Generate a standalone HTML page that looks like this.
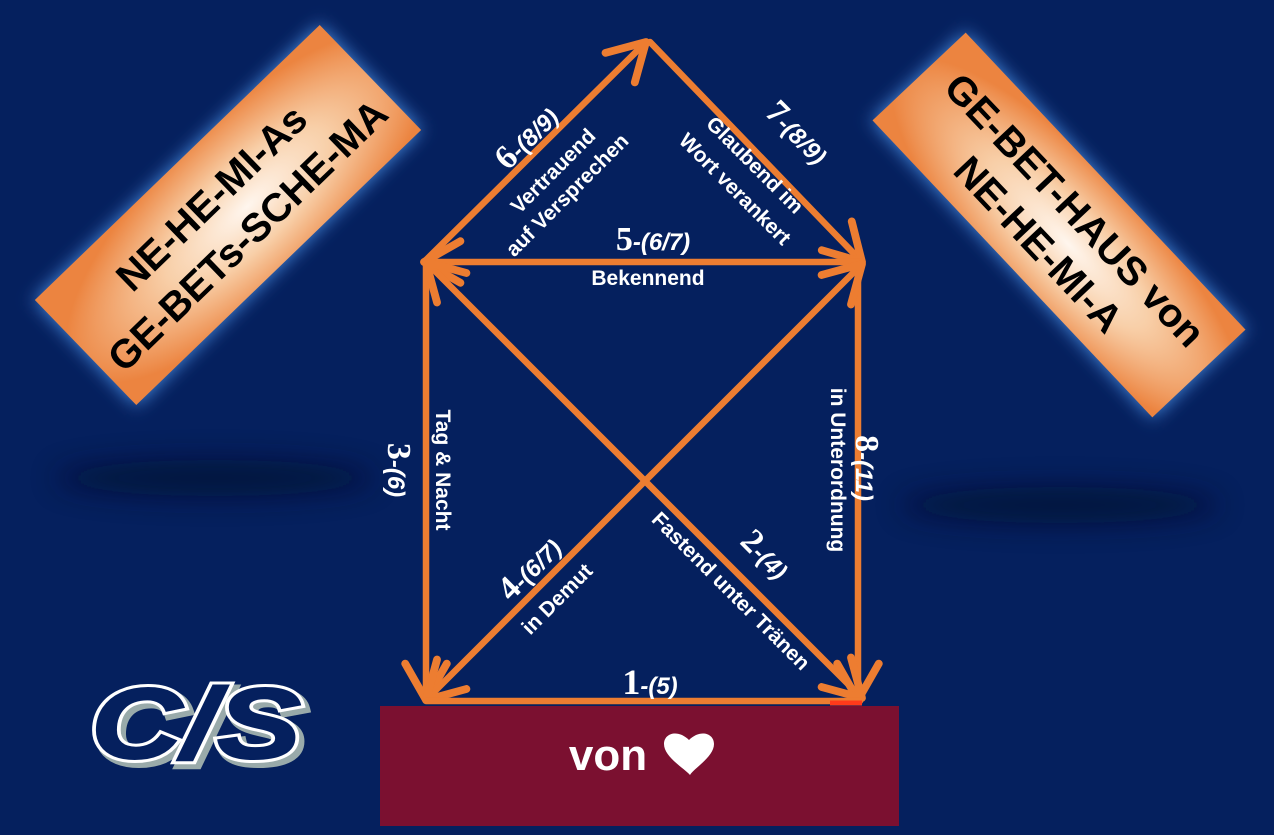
<!DOCTYPE html>
<html><head><meta charset="utf-8"><style>
html,body{margin:0;padding:0;background:#05205e;}
svg{display:block}
.n{font-family:"Liberation Serif",serif;font-weight:bold;fill:#fff}
.p{font-family:"Liberation Sans",sans-serif;font-weight:bold;font-style:italic;fill:#fff}
.l{font-family:"Liberation Sans",sans-serif;font-weight:bold;fill:#fff;font-size:21px}
.b{font-family:"Liberation Sans",sans-serif;font-weight:bold;fill:#000;font-size:40px}
</style></head><body>
<svg width="1274" height="835" viewBox="0 0 1274 835">
<defs>
<radialGradient id="bx" cx="0.55" cy="0.55" r="0.6">
<stop offset="0" stop-color="#fff6ee"/><stop offset="0.45" stop-color="#f8cfa8"/><stop offset="1" stop-color="#ec8440"/>
</radialGradient>
<filter id="gl" x="-30%" y="-30%" width="160%" height="160%"><feGaussianBlur stdDeviation="9"/></filter>
<filter id="sh" x="-30%" y="-200%" width="160%" height="500%"><feGaussianBlur stdDeviation="14"/></filter>
<marker id="ar" viewBox="0 0 20 20" refX="17" refY="10" markerWidth="8" markerHeight="8" orient="auto-start-reverse" markerUnits="strokeWidth">
<path d="M3,2 L17,10 L3,18" fill="none" stroke="#ed7d31" stroke-width="3" stroke-linecap="round" stroke-linejoin="round"/>
</marker>
</defs>
<rect width="1274" height="835" fill="#05205e"/>
<ellipse cx="215" cy="478" rx="160" ry="18" fill="#010a25" opacity="0.6" filter="url(#sh)"/>
<ellipse cx="1060" cy="505" rx="160" ry="18" fill="#010a25" opacity="0.6" filter="url(#sh)"/>
<g transform="translate(228,215) rotate(-44)">
<rect x="-198" y="-73" width="396" height="146" fill="#4a8ce0" filter="url(#gl)"/>
<rect x="-198" y="-73" width="396" height="146" fill="url(#bx)"/>
<text class="b" x="0" y="-10" text-anchor="middle">NE-HE-MI-As</text>
<text class="b" x="0" y="42" text-anchor="middle">GE-BETs-SCHE-MA</text>
</g>
<g transform="translate(1059,225) rotate(46.7)">
<rect x="-204" y="-64" width="408" height="128" fill="#4a8ce0" filter="url(#gl)"/>
<rect x="-204" y="-64" width="408" height="128" fill="url(#bx)"/>
<text class="b" x="0" y="-8" text-anchor="middle">GE-BET-HAUS von</text>
<text class="b" x="0" y="42" text-anchor="middle">NE-HE-MI-A</text>
</g>
<rect x="380" y="706" width="519" height="120" fill="#7b1030"/>
<text x="608" y="770" text-anchor="middle" font-family="Liberation Sans,sans-serif" font-weight="bold" font-size="44" fill="#fff">von</text>
<path d="M690,775 C684,768 664,757 664,744 C664,733 678,729 689,740 C700,729 714,733 714,744 C714,757 694,768 690,775 Z" fill="#fff"/>
<g stroke="#ed7d31" stroke-width="6.5" fill="none" stroke-linecap="round">
<line x1="424" y1="262" x2="646" y2="42" marker-end="url(#ar)"/>
<line x1="650" y1="42" x2="862" y2="262" marker-end="url(#ar)"/>
<line x1="424" y1="262" x2="862" y2="262" marker-start="url(#ar)"/>
<line x1="426" y1="262" x2="426" y2="700" marker-end="url(#ar)"/>
<line x1="858" y1="262" x2="858" y2="700" marker-end="url(#ar)"/>
<line x1="426" y1="262" x2="862" y2="698" marker-start="url(#ar)" marker-end="url(#ar)"/>
<line x1="426" y1="700" x2="862" y2="264" marker-start="url(#ar)" marker-end="url(#ar)"/>
<line x1="426" y1="701" x2="860" y2="701"/>
</g>
<line x1="830" y1="703" x2="862" y2="703" stroke="#ff3a1a" stroke-width="5"/>
<g transform="translate(534,145) rotate(-45)"><text text-anchor="middle"><tspan class="n" font-size="34">6</tspan><tspan class="p" font-size="24">-(8/9)</tspan></text></g>
<g transform="translate(558,176) rotate(-45)"><text class="l" text-anchor="middle">Vertrauend</text></g>
<g transform="translate(572,200) rotate(-45)"><text class="l" text-anchor="middle">auf Versprechen</text></g>
<g transform="translate(790,140) rotate(45)"><text text-anchor="middle"><tspan class="n" font-size="34">7</tspan><tspan class="p" font-size="24">-(8/9)</tspan></text></g>
<g transform="translate(750,170) rotate(45)"><text class="l" text-anchor="middle">Glaubend im</text></g>
<g transform="translate(730,194) rotate(45)"><text class="l" text-anchor="middle">Wort verankert</text></g>
<text x="653" y="250" text-anchor="middle"><tspan class="n" font-size="34">5</tspan><tspan class="p" font-size="24">-(6/7)</tspan></text>
<text class="l" x="648" y="285" text-anchor="middle">Bekennend</text>
<g transform="translate(388,470) rotate(90)"><text text-anchor="middle"><tspan class="n" font-size="34">3</tspan><tspan class="p" font-size="24">-(6)</tspan></text></g>
<g transform="translate(436,470) rotate(90)"><text class="l" text-anchor="middle">Tag &amp; Nacht</text></g>
<g transform="translate(856,468) rotate(90)"><text text-anchor="middle"><tspan class="n" font-size="34">8</tspan><tspan class="p" font-size="24">-(11)</tspan></text></g>
<g transform="translate(831,470) rotate(90)"><text class="l" text-anchor="middle">in Unterordnung</text></g>
<g transform="translate(537,576) rotate(-45)"><text text-anchor="middle"><tspan class="n" font-size="34">4</tspan><tspan class="p" font-size="24">-(6/7)</tspan></text></g>
<g transform="translate(562,604) rotate(-45)"><text class="l" text-anchor="middle">in Demut</text></g>
<g transform="translate(758,562) rotate(45)"><text text-anchor="middle"><tspan class="n" font-size="34">2</tspan><tspan class="p" font-size="24">-(4)</tspan></text></g>
<g transform="translate(726,596) rotate(45)"><text class="l" text-anchor="middle">Fastend unter Tränen</text></g>
<text x="650" y="694" text-anchor="middle"><tspan class="n" font-size="36">1</tspan><tspan class="p" font-size="24">-(5)</tspan></text>
<text x="196" y="758" text-anchor="middle" font-family="Liberation Sans,sans-serif" font-weight="bold" font-style="italic" font-size="100" fill="#0a2a6e" stroke="#9aa" stroke-width="10" transform="translate(4,4)" textLength="210" lengthAdjust="spacingAndGlyphs">C/S</text>
<text x="196" y="758" text-anchor="middle" font-family="Liberation Sans,sans-serif" font-weight="bold" font-style="italic" font-size="100" fill="#05205e" stroke="#fff" stroke-width="8" textLength="210" lengthAdjust="spacingAndGlyphs">C/S</text>
<text x="196" y="758" text-anchor="middle" font-family="Liberation Sans,sans-serif" font-weight="bold" font-style="italic" font-size="100" fill="#05205e" stroke="#05205e" stroke-width="2" textLength="210" lengthAdjust="spacingAndGlyphs">C/S</text>
</svg>
</body></html>
